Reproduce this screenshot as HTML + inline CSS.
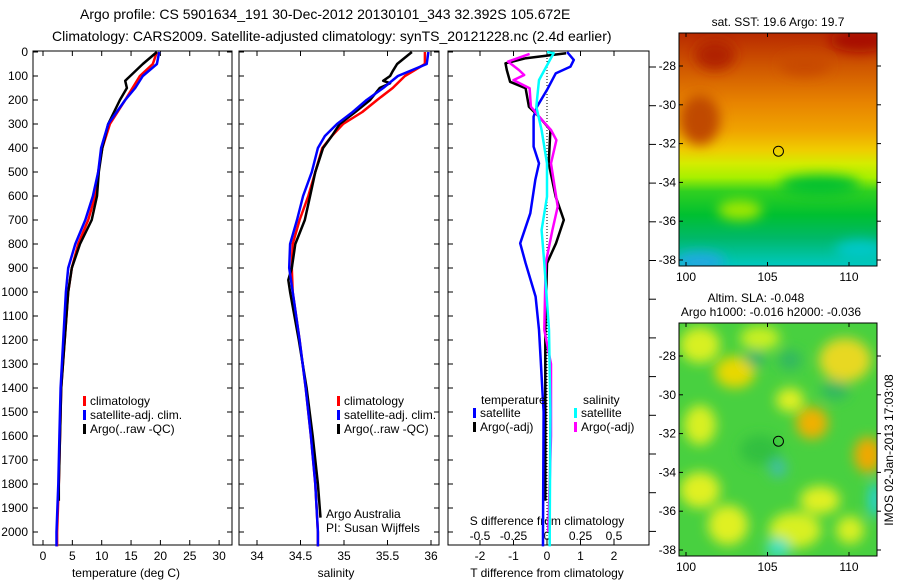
<!DOCTYPE html>
<html><head><meta charset="utf-8">
<style>
body{margin:0;background:#fff;}
svg{display:block;font-family:"Liberation Sans",sans-serif;}
text{fill:#000;}
</style></head>
<body>
<svg id="fig" width="900" height="580" xmlns="http://www.w3.org/2000/svg">
<defs>
<linearGradient id="sstg" x1="0" y1="0" x2="0" y2="1">
<stop offset="0" stop-color="#b82a00"/><stop offset="0.15" stop-color="#d05800"/>
<stop offset="0.3" stop-color="#e88400"/><stop offset="0.42" stop-color="#f0a400"/>
<stop offset="0.5" stop-color="#f0cc00"/><stop offset="0.56" stop-color="#d4ec00"/>
<stop offset="0.62" stop-color="#a8f000"/><stop offset="0.68" stop-color="#30d020"/>
<stop offset="0.78" stop-color="#00c030"/><stop offset="0.88" stop-color="#00b868"/>
<stop offset="1" stop-color="#00c8c0"/>
</linearGradient>
<filter id="blur" x="-50%" y="-50%" width="200%" height="200%"><feGaussianBlur stdDeviation="6"/></filter>
<clipPath id="c1"><rect x="679" y="33" width="198" height="233"/></clipPath>
<clipPath id="c2"><rect x="679" y="323" width="198" height="233"/></clipPath>
</defs>
<g font-size="14">
<text x="80" y="19">Argo profile: CS 5901634_191 30-Dec-2012 20130101_343 32.392S 105.672E</text>
<text x="52" y="41">Climatology: CARS2009. Satellite-adjusted climatology: synTS_20121228.nc (2.4d earlier)</text>
</g>
<g id="axes"></g>
<g id="series"></g>
<g id="maps"></g>
</svg>
<script>
// ---- data ----
const tDepth=[0,50,100,200,300,400,500,600,700,800,900,1000,1400,1600,1800,2000,2060];
const tClim=[19.4,18.7,16.5,14.0,11.4,10.1,9.4,8.9,7.7,6.0,4.9,4.3,3.1,2.9,2.7,2.4,2.4];
const tSatDepth=[0,50,100,150,200,300,400,500,600,700,800,900,1000,1400,1600,1800,2000,2060];
const tSat=[19.8,19.4,17.0,15.7,14.0,11.1,9.9,9.4,8.5,7.2,5.5,4.3,3.9,3.0,2.8,2.6,2.3,2.3];
const tArgoDepth=[0,50,120,150,200,300,400,500,600,700,800,900,1000,1400,1600,1800,1870];
const tArgo=[19.4,17.0,14.0,14.3,13.1,11.1,10.1,9.5,9.2,8.3,6.3,4.9,4.3,3.1,2.9,2.7,2.7];
const sDepth=[0,50,100,150,200,250,300,350,400,500,600,700,800,900,1000,1200,1400,1600,1800,2000,2060];
const sClim=[35.93,35.93,35.70,35.56,35.38,35.21,34.99,34.86,34.75,34.67,34.59,34.49,34.41,34.40,34.41,34.49,34.56,34.62,34.67,34.70,34.70];
const sSat=[35.97,35.95,35.62,35.45,35.26,35.10,34.92,34.78,34.70,34.63,34.53,34.46,34.38,34.37,34.41,34.49,34.56,34.62,34.67,34.70,34.70];
const sArgoDepth=[0,50,80,100,120,130,150,200,250,300,350,400,500,600,700,800,900,950,1000,1200,1400,1600,1800,1940];
const sArgo=[35.78,35.61,35.56,35.53,35.45,35.53,35.41,35.30,35.13,34.95,34.86,34.76,34.67,34.61,34.55,34.44,34.40,34.36,34.38,34.48,34.57,34.64,34.70,34.73];
const dTSatDepth=[0,33,61,89,158,228,269,394,464,533,672,797,880,1019,1158,1500,2000,2060];
const dTSat=[0.6,0.8,0.7,0.26,0,-0.3,-0.4,-0.4,-0.24,-0.35,-0.5,-0.8,-0.64,-0.34,-0.24,-0.1,-0.12,-0.12];
const dTArgoDepth=[5,26,47,75,124,151,228,269,325,464,603,700,797,880,1158,1500,1870];
const dTArgo=[0.57,-0.63,-1.24,-1.2,-1.1,-0.64,-0.54,-0.24,0.1,0.05,0.26,0.5,0.27,0,-0.05,-0.05,-0.05];
const dSSatDepth=[0,5,35,117,228,325,464,603,742,880,1158,1500,2000,2060];
const dSSat=[0,0.05,0.02,-0.06,-0.08,-0.04,0,0,-0.04,-0.02,0.015,0.025,0.02,0.02];
const dSArgoDepth=[8,40,75,96,117,151,228,269,325,367,464,644,742,880,1158,1300,1600,2000];
const dSArgo=[-0.13,-0.29,-0.21,-0.17,-0.25,-0.13,-0.12,-0.06,0.03,0.07,0.03,0.08,0.04,-0.01,-0.02,0.03,0.03,0.01];
const depthTicks=[0,100,200,300,400,500,600,700,800,900,1000,1100,1200,1300,1400,1500,1600,1700,1800,1900,2000];
const tTicks=[0,5,10,15,20,25,30];
const sTicks=[34,34.5,35,35.5,36];
const sTickLabels=["34","34.5","35","35.5","36"];
const dTTicks=[-2,-1,0,1,2];
const dSTicks=[-0.5,-0.25,0,0.25,0.5];
const dSTickLabels=["-0.5","-0.25","0","0.25","0.5"];
const lonTicks=[100,105,110];
const latTicks=[-28,-30,-32,-34,-36,-38];
const argoLon=105.672, argoLat=-32.392;

// ---- scales ----
const yD=d=>52+d*0.24;
const xT=t=>43+t*5.87;
const xS=s=>257+(s-34)*87;
const xDT=t=>547+t*33.5;
const xDS=s=>547+s*134;
const mX=l=>686+(l-100)*16.3;
const mY1=l=>66+(-28-l)*19.4;
const mY2=l=>356+(-28-l)*19.4;

const NS='http://www.w3.org/2000/svg';
function mk(tag,attrs,parent){const e=document.createElementNS(NS,tag);for(const k in attrs)e.setAttribute(k,attrs[k]);parent.appendChild(e);return e;}
const axes=document.getElementById('axes'), ser=document.getElementById('series'), maps=document.getElementById('maps');

function txt(x,y,s,anchor,size,parent,name){const t=mk('text',{x:x,y:y,'text-anchor':anchor||'start','font-size':size||12},parent);t.textContent=s;


return t;}

// frames
const frames=[[33,232,'temperature-panel-frame'],[239,439,'salinity-panel-frame'],[448,649,'difference-panel-frame']];
frames.forEach(f=>{const r=mk('rect',{x:f[0],y:51,width:f[1]-f[0],height:494,fill:'none',stroke:'#000','stroke-width':1},axes);

});
// depth ticks
depthTicks.forEach(d=>{txt(28,yD(d)+4,String(d),'end',12,axes,'y-tick-label');
[[33,1],[232,-1],[239,1],[439,-1],[448,1]].forEach(p=>mk('line',{x1:p[0],x2:p[0]+p[1]*5,y1:yD(d),y2:yD(d),stroke:'#000'},axes));});
for(let i=0;i<13;i++){const y=67+i*38.7;if(y<=551)mk('line',{x1:649,x2:656,y1:y,y2:y,stroke:'#000'},axes);}
// x ticks
function xticks(vals,labels,f,yl,name,both){vals.forEach((v,i)=>{const x=f(v);
mk('line',{x1:x,x2:x,y1:51,y2:56,stroke:'#000'},axes);mk('line',{x1:x,x2:x,y1:545,y2:540,stroke:'#000'},axes);
if(yl)txt(x,yl,labels[i],'middle',12,axes,name);});}
xticks(tTicks,tTicks.map(String),xT,560,'temperature-tick-label');
xticks(sTicks,sTickLabels,xS,560,'salinity-tick-label');
xticks(dTTicks,dTTicks.map(String),xDT,560,'t-diff-tick-label');
dSTicks.forEach((v,i)=>txt(xDS(v),540,dSTickLabels[i],'middle',12,axes,'s-diff-tick-label'));
txt(126,577,'temperature (deg C)','middle',12,axes,'temperature-axis-title');
txt(336,577,'salinity','middle',12,axes,'salinity-axis-title');
txt(547,577,'T difference from climatology','middle',12,axes,'t-diff-axis-title');
txt(547,525,'S difference from climatology','middle',12,axes,'s-diff-axis-title');
// zero dotted line
mk('line',{x1:xDT(0),x2:xDT(0),y1:52,y2:545,stroke:'#000','stroke-dasharray':'1,2'},axes);

function line(ds,vs,fx,color,name){const pts=ds.map((d,i)=>fx(vs[i]).toFixed(1)+','+yD(d).toFixed(1)).join(' ');
const p=mk('polyline',{points:pts,fill:'none',stroke:color,'stroke-width':2.5,'stroke-linejoin':'round'},ser);

}
line(tDepth,tClim,xT,'#ff0000','temperature-climatology-line');
line(tArgoDepth,tArgo,xT,'#000000','temperature-argo-line');
line(tSatDepth,tSat,xT,'#0000ff','temperature-satellite-line');
line(sDepth,sClim,xS,'#ff0000','salinity-climatology-line');
line(sArgoDepth,sArgo,xS,'#000000','salinity-argo-line');
line(sDepth,sSat,xS,'#0000ff','salinity-satellite-line');
line(dTArgoDepth,dTArgo,xDT,'#000000','t-diff-argo-line');
line(dTSatDepth,dTSat,xDT,'#0000ff','t-diff-satellite-line');
line(dSArgoDepth,dSArgo,xDS,'#ff00ff','s-diff-argo-line');
line(dSSatDepth,dSSat,xDS,'#00ffff','s-diff-satellite-line');

// legends
function leg(x,y,color,label){mk('rect',{x:x,y:y-9,width:3,height:10,fill:color},ser);txt(x+7,y,label,'start',12,ser,'legend-entry');}
leg(83,405,'#ff0000','climatology');leg(83,419,'#0000ff','satellite-adj. clim.');leg(83,433,'#000000','Argo(..raw -QC)');
leg(337,405,'#ff0000','climatology');leg(337,419,'#0000ff','satellite-adj. clim.');leg(337,433,'#000000','Argo(..raw -QC)');
txt(481,404,'temperature','start',12,ser,'legend-title-temperature');
txt(583,404,'salinity','start',12,ser,'legend-title-salinity');
leg(473,417,'#0000ff','satellite');leg(473,431,'#000000','Argo(-adj)');
leg(574,417,'#00ffff','satellite');leg(574,431,'#ff00ff','Argo(-adj)');
txt(326,518,'Argo Australia','start',12,ser,'credit-argo-australia');
txt(326,532,'PI: Susan Wijffels','start',12,ser,'credit-pi');

// maps
const g1=mk('g',{'clip-path':'url(#c1)'},maps);
mk('rect',{x:679,y:33,width:198,height:233,fill:'url(#sstg)'},g1);
const sstBlobs=[[860,40,30,12,'#a81000'],[715,55,20,15,'#b02000'],[805,65,25,10,'#c84800'],[740,210,22,10,'#a0e800'],[700,262,25,10,'#20a8e0'],[860,250,25,10,'#00c8c8'],[820,185,40,10,'#00c030'],[700,120,20,25,'#c04800']];
const gb=mk('g',{filter:'url(#blur)'},g1);
sstBlobs.forEach(b=>mk('ellipse',{cx:b[0],cy:b[1],rx:b[2],ry:b[3],fill:b[4]},gb));
const g2=mk('g',{'clip-path':'url(#c2)'},maps);
mk('rect',{x:679,y:323,width:198,height:233,fill:'#48d040'},g2);
const gb2=mk('g',{filter:'url(#blur)'},g2);
const slaBlobs=[[700,345,20,18,'#d8f020'],[735,372,20,16,'#e8d800'],[700,425,16,20,'#d8f020'],[790,400,14,12,'#e0f020'],[812,423,16,16,'#f0b000'],[845,360,26,22,'#e8d820'],[868,455,14,18,'#f0a800'],[700,490,20,18,'#e0f020'],[728,525,20,20,'#e0f020'],[795,530,26,18,'#d8f020'],[820,500,20,14,'#e0f020'],[850,530,14,14,'#d8f020'],[760,338,20,12,'#c8f020'],[755,358,10,8,'#20b070'],[790,360,12,10,'#30b860'],[835,390,14,10,'#30b860'],[778,468,9,10,'#40c0a0'],[778,548,12,10,'#40e0c0'],[875,500,6,18,'#20d0e0'],[760,450,20,15,'#30c040']];
slaBlobs.forEach(b=>mk('ellipse',{cx:b[0],cy:b[1],rx:b[2],ry:b[3],fill:b[4]},gb2));
[[33,266,mY1,'sst-map'],[323,556,mY2,'sla-map']].forEach(m=>{
 const r=mk('rect',{x:679,y:m[0],width:198,height:233,fill:'none',stroke:'#000'},maps);
 
 
 lonTicks.forEach(l=>{const x=mX(l);mk('line',{x1:x,x2:x,y1:m[0],y2:m[0]+4,stroke:'#000'},maps);mk('line',{x1:x,x2:x,y1:m[1],y2:m[1]-4,stroke:'#000'},maps);
  txt(x,m[1]+15,String(l),'middle',12,maps,'lon-tick-label');});
 latTicks.forEach(l=>{const y=m[2](l);mk('line',{x1:679,x2:683,y1:y,y2:y,stroke:'#000'},maps);mk('line',{x1:877,x2:881,y1:y,y2:y,stroke:'#000'},maps);
  txt(676,y+4,String(l),'end',12,maps,'lat-tick-label');});
 const c=mk('circle',{cx:mX(argoLon),cy:m[2](argoLat),r:5,fill:'none',stroke:'#000','stroke-width':1},maps);
 
 
});
txt(778,26,'sat. SST: 19.6 Argo: 19.7','middle',12,maps,'sst-map-title');
txt(756,302,'Altim. SLA: -0.048','middle',12,maps,'sla-map-title');
txt(771,316,'Argo h1000: -0.016 h2000: -0.036','middle',12,maps,'sla-map-subtitle');
const ts=txt(0,0,'IMOS 02-Jan-2013 17:03:08','middle',12,maps,'timestamp');
ts.setAttribute('transform','translate(893,450) rotate(-90)');
</script>
</body></html>
